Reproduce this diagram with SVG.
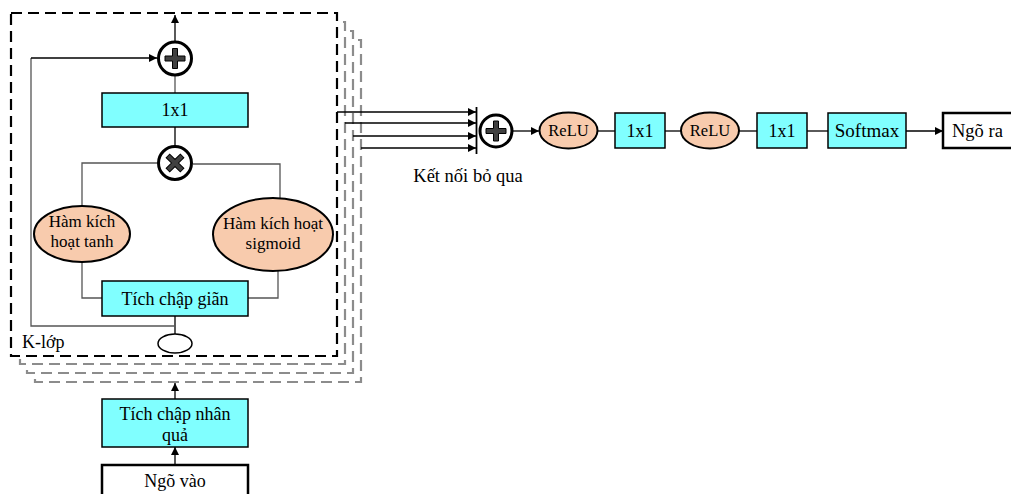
<svg xmlns="http://www.w3.org/2000/svg" width="1011" height="494" viewBox="0 0 1011 494" font-family="'Times New Roman', 'Liberation Serif', 'DejaVu Serif', serif">
<defs>
<style>
text{font-family:'Times New Roman','Liberation Serif','DejaVu Serif',serif;fill:#000;text-anchor:middle}
.box{fill:#80FFFF;stroke:#000;stroke-width:1.5}
.io{fill:#fff;stroke:#000;stroke-width:2.5}
.ell{fill:#F8CBAD;stroke:#000;stroke-width:2}
.op{fill:#fff;stroke:#000;stroke-width:3}
.sym{fill:#404040;stroke:#000;stroke-width:1}
.fr0{fill:#fff;stroke:#000;stroke-width:2.2;stroke-dasharray:11 6}
.frg{fill:#fff;stroke:#8c8c8c;stroke-width:2.2;stroke-dasharray:11 6}
.ln{fill:none;stroke:#000;stroke-width:1.3}
.lg{fill:none;stroke:#555;stroke-width:1.3}
</style>
<marker id="ah" viewBox="0 0 10 10" refX="10" refY="5" markerWidth="8" markerHeight="8" markerUnits="userSpaceOnUse" orient="auto">
<path d="M0,0 L10,5 L0,10 z" fill="#000"/>
</marker>
<path id="plus" d="M-2.5,-10 H2.5 V-2.5 H10 V2.5 H2.5 V10 H-2.5 V2.5 H-10 V-2.5 H-2.5 Z"/>
</defs>

<g id="frames">
<rect class="frg" x="35" y="40" width="326" height="342"/>
<rect class="frg" x="27" y="31" width="326" height="342"/>
<rect class="frg" x="20" y="22" width="325" height="342"/>
<rect class="fr0" x="11" y="13" width="326" height="343"/>
</g>

<g id="connectors">
<line class="ln" x1="175" y1="41" x2="175" y2="15" marker-end="url(#ah)"/>
<line class="lg" x1="175" y1="75" x2="175" y2="93"/>
<line class="ln" x1="175" y1="127" x2="175" y2="146"/>
<polyline class="lg" points="157,163 82,163 82,206"/>
<polyline class="lg" points="193,164 280,164 280,199"/>
<polyline class="lg" points="82,262 82,298 102,298"/>
<polyline class="lg" points="278,270 278,298 248,298"/>
<line class="ln" x1="175" y1="316" x2="175" y2="334"/>
<polyline class="lg" points="175,326 31,326 31,58"/>
<line class="ln" x1="31" y1="58" x2="157" y2="58" marker-end="url(#ah)"/>
<line class="ln" x1="175" y1="399" x2="175" y2="383" marker-end="url(#ah)"/>
<line class="ln" x1="175" y1="465" x2="175" y2="447" marker-end="url(#ah)"/>
<line class="ln" x1="337" y1="112" x2="476" y2="112" marker-end="url(#ah)"/>
<line class="ln" x1="345" y1="123" x2="476" y2="123" marker-end="url(#ah)"/>
<line class="ln" x1="353" y1="136" x2="476" y2="136" marker-end="url(#ah)"/>
<line class="ln" x1="361" y1="148" x2="476" y2="148" marker-end="url(#ah)"/>
<line x1="476.5" y1="107" x2="476.5" y2="154" stroke="#000" stroke-width="1.8"/>
<line class="ln" x1="513" y1="131" x2="539" y2="131" marker-end="url(#ah)"/>
<line class="ln" x1="598" y1="131" x2="615" y2="131"/>
<line class="ln" x1="665" y1="131" x2="681" y2="131"/>
<line class="ln" x1="739" y1="131" x2="757" y2="131"/>
<line class="ln" x1="807" y1="131" x2="828" y2="131"/>
<line class="ln" x1="906" y1="131" x2="943" y2="131" marker-end="url(#ah)"/>
</g>

<g id="add-top">
<circle class="op" cx="175" cy="58.5" r="16.5"/>
<use href="#plus" class="sym" transform="translate(175,58.5)"/>
</g>
<g id="conv1x1-inner">
<rect class="box" x="102" y="93" width="146" height="34"/>
<text x="175" y="116" font-size="18">1x1</text>
</g>
<g id="mul">
<circle class="op" cx="175" cy="163" r="16.5"/>
<use href="#plus" class="sym" transform="translate(175,163) rotate(45)"/>
</g>
<g id="tanh">
<ellipse class="ell" cx="82" cy="234" rx="48" ry="28"/>
<text x="82" y="227" font-size="17">Hàm kích</text>
<text x="82" y="247" font-size="17">hoạt tanh</text>
</g>
<g id="sigmoid">
<ellipse class="ell" cx="273" cy="234.5" rx="60" ry="36.5"/>
<text x="273" y="229" font-size="17">Hàm kích hoạt</text>
<text x="273" y="249" font-size="17">sigmoid</text>
</g>
<g id="dilated">
<rect class="box" x="102" y="281" width="146" height="35"/>
<text x="175" y="305" font-size="18">Tích chập giãn</text>
</g>
<g id="small-ellipse">
<ellipse cx="175" cy="343.5" rx="17" ry="9.5" fill="#fff" stroke="#000" stroke-width="1.5"/>
</g>
<g id="k-label">
<text x="22" y="348" font-size="18" style="text-anchor:start">K-lớp</text>
</g>
<g id="causal">
<rect class="box" x="102" y="399" width="146" height="48"/>
<text x="175" y="420" font-size="18">Tích chập nhân</text>
<text x="175" y="441" font-size="18">quả</text>
</g>
<g id="input">
<rect class="io" x="102" y="465" width="146" height="40"/>
<text x="175" y="487" font-size="18">Ngõ vào</text>
</g>

<g id="add-skip">
<circle class="op" cx="496" cy="131" r="16"/>
<use href="#plus" class="sym" transform="translate(496,131)"/>
</g>
<g id="skip-label">
<text x="468" y="182" font-size="18.5">Kết nối bỏ qua</text>
</g>
<g id="relu1">
<ellipse class="ell" cx="568.5" cy="130.5" rx="29" ry="18"/>
<text x="568.5" y="136" font-size="16.5">ReLU</text>
</g>
<g id="conv1">
<rect class="box" x="615" y="113" width="50" height="35"/>
<text x="640" y="137" font-size="18">1x1</text>
</g>
<g id="relu2">
<ellipse class="ell" cx="710" cy="130.5" rx="29" ry="18"/>
<text x="710" y="136" font-size="16.5">ReLU</text>
</g>
<g id="conv2">
<rect class="box" x="757" y="113" width="50" height="35"/>
<text x="782" y="137" font-size="18">1x1</text>
</g>
<g id="softmax">
<rect class="box" x="828" y="113" width="78" height="35"/>
<text x="867" y="137" font-size="19">Softmax</text>
</g>
<g id="output">
<rect class="io" x="943" y="113" width="80" height="35"/>
<text x="952" y="137" font-size="18.5" style="text-anchor:start">Ngõ ra</text>
</g>
</svg>
